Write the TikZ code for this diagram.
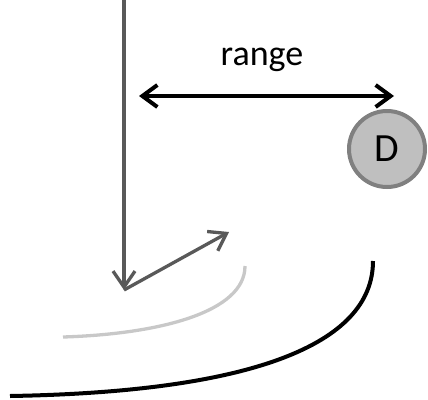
\documentclass[tikz,border=0pt]{standalone}
\usepackage{fontspec}
\setmainfont{Carlito}
\usetikzlibrary{arrows.meta}
\definecolor{arrowgray}{HTML}{595959}
\definecolor{arclight}{HTML}{C8C8C8}
\definecolor{dfill}{HTML}{BFBFBF}
\definecolor{dborder}{HTML}{808080}
\tikzset{
  barb/.style={-{Straight Barb[length=16pt,width=22pt,line width=3.3pt]}, line width=3.3pt},
  dbarb/.style={{Straight Barb[length=15pt,width=22pt,line width=4pt]}-{Straight Barb[length=15pt,width=22pt,line width=4pt]}, line width=4pt},
  lbl/.style={font=\fontsize{36}{40}\selectfont, inner sep=0pt},
  dnode/.style={circle, draw=dborder, fill=dfill, line width=4pt, minimum size=76pt, inner sep=0pt, font=\fontsize{40}{44}\selectfont}
}
\begin{document}
\begin{tikzpicture}[x=1pt,y=-1pt]
\useasboundingbox (0,0) rectangle (428,399);
\coordinate (top) at (124,0);
\coordinate (o) at (124,290);
\coordinate (dir) at (229,232);
\coordinate (rl) at (139,96);
\coordinate (rr) at (394,96);
\coordinate (la) at (245,266);
\coordinate (lb) at (63,337);
\coordinate (ba) at (373,261);
\coordinate (bb) at (10,396);
\node[dnode] (D) at (387,149) {D};
\node[lbl, anchor=base] (range) at (262,65) {range};
\draw[barb, arrowgray] (top) -- (o);
\draw[barb, arrowgray] (o) -- (dir);
\draw[dbarb, black] (rl) -- (rr);
\draw[arclight, line width=3.3pt] (la) .. controls (245,312) and (160,334) .. (lb);
\draw[black, line width=4pt] (ba) .. controls (373,345) and (250,392) .. (bb);
\end{tikzpicture}
\end{document}
